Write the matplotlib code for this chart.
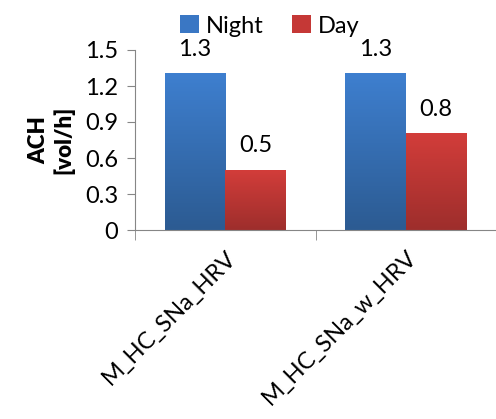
import numpy as np
import matplotlib.pyplot as plt
from matplotlib.patches import Patch

categories = ['M_HC_SNa_HRV', 'M_HC_SNa_w_HRV']
night = [1.3, 1.3]
day = [0.5, 0.8]
y_ticks = [0, 0.3, 0.6, 0.9, 1.2, 1.5]

plt.rcParams['font.family'] = ['Lato', 'DejaVu Sans']

fig = plt.figure(figsize=(4.96, 4.19), dpi=100)
ax = fig.add_axes([135/496, 1-230/419, (496-135)/496, 180/419])

x = np.arange(len(categories))
w = 0.335
b1 = ax.bar(x - w/2, night, w, color='none', edgecolor='none')
b2 = ax.bar(x + w/2, day, w, color='none', edgecolor='none')

def grad_fill(bars, top, bottom):
    g = np.linspace(0, 1, 64).reshape(-1, 1)
    c1 = np.array(plt.matplotlib.colors.to_rgb(top))
    c2 = np.array(plt.matplotlib.colors.to_rgb(bottom))
    img = c1 * (1 - g[..., None]) + c2 * g[..., None]
    for p in bars:
        x0, y0 = p.get_x(), p.get_y()
        ax.imshow(img, extent=[x0, x0 + p.get_width(), y0, y0 + p.get_height()],
                  aspect='auto', zorder=2, interpolation='bilinear')

grad_fill(b1, '#3e7fcf', '#2c5b92')
grad_fill(b2, '#d23d3a', '#9e2e2c')

for bars, vals in ((b1, night), (b2, day)):
    for p, v in zip(bars, vals):
        ax.annotate(f'{v}', (p.get_x() + p.get_width()/2, v), xytext=(0, 10),
                    textcoords='offset points', ha='center', va='bottom', fontsize=17)

ax.set_xlim(-0.5, len(categories) - 0.5)
ax.set_ylim(0, 1.5)
ax.set_yticks(y_ticks)
ax.set_yticklabels([f'{t:g}' for t in y_ticks], fontsize=17)
ax.set_xticks(x)
ax.set_xticklabels(categories, rotation=45, ha='right', rotation_mode='anchor', fontsize=17)
ax.tick_params(axis='x', length=0, pad=12)
ax.set_xticks(np.arange(len(categories) + 1) - 0.5, minor=True)
ax.tick_params(axis='x', which='minor', length=7, color='#868686')
ax.tick_params(axis='y', length=6, color='#868686', pad=6)

for s in ['top', 'right']:
    ax.spines[s].set_visible(False)
for s in ['left', 'bottom']:
    ax.spines[s].set_color('#868686')

ax.set_ylabel('ACH\n[vol/h]', fontsize=16, fontweight='heavy', labelpad=8)

handles = [Patch(facecolor='#3a77c4', label='Night'), Patch(facecolor='#c53836', label='Day')]
fig.legend(handles=handles, loc='center', bbox_to_anchor=(270/496, 1-26/419), ncol=2,
           frameon=False, fontsize=17, handlelength=0.8, handleheight=0.8,
           handletextpad=0.3, columnspacing=1.2)

fig.savefig('out.png', dpi=100)
